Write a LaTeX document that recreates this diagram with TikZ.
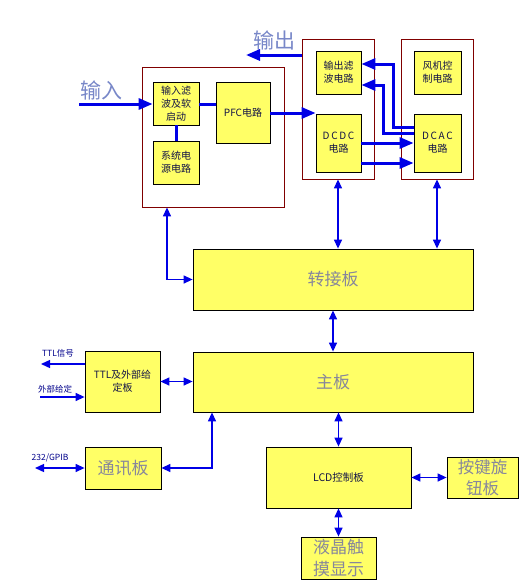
\documentclass[tikz,border=0pt]{standalone}
\usepackage{fontspec}
\usepackage{tikz}
\usetikzlibrary{arrows.meta}
\newfontfamily\cjk{Noto Sans CJK SC}
\definecolor{boxyellow}{RGB}{255,255,102}
\definecolor{framered}{RGB}{128,0,0}
\definecolor{arrowblue}{RGB}{0,0,230}
\definecolor{biggray}{RGB}{135,135,155}
\definecolor{iolabel}{RGB}{120,135,200}
\definecolor{smalltext}{RGB}{20,20,70}

\begin{document}
\begin{tikzpicture}[x=1pt,y=-1pt,
  frame/.style 2 args={draw=framered, line width=.8pt, inner sep=0pt,
    minimum width=#1, minimum height=#2},
  block/.style 2 args={draw=black, line width=.8pt, fill=boxyellow, inner sep=0pt,
    minimum width=#1, minimum height=#2, align=center, text=smalltext,
    font=\cjk\fontsize{10}{13}\selectfont},
  bigblock/.style 2 args={block={#1}{#2}, text=biggray,
    font=\cjk\fontsize{17}{22}\selectfont},
  iotext/.style={text=iolabel, font=\cjk\fontsize{21}{24}\selectfont},
  sidetext/.style={text=arrowblue!60!black, font=\cjk\fontsize{8.5}{10}\selectfont},
  power/.style={draw=arrowblue, line width=3pt},
  powerarr/.style={power, -{Triangle[length=14pt,width=11pt]}},
  signal/.style={draw=arrowblue, line width=1.3pt},
  signalarr/.style={signal, -{Triangle[length=9pt,width=8pt]}},
  botharr/.style={signal, {Triangle[length=9pt,width=8pt]}-{Triangle[length=9pt,width=8pt]}}]
%\draw[help lines] (0,0) grid[step=20] (520,581);
\useasboundingbox (0,0) rectangle (520,581);

% power section
\node[frame={142pt}{140pt}] (pfcframe) at (213,137) {};
\node[frame={72pt}{140pt}] (dcdcframe) at (338,109) {};
\node[frame={72pt}{140pt}] (dcacframe) at (437,109) {};

\node[block={46pt}{43pt}] (infilter) at (176,103.5) {输入滤\\波及软\\启动};
\node[block={46pt}{43pt}] (syspower) at (176,162.5) {系统电\\源电路};
\node[block={54pt}{61pt}] (pfc) at (243,112.5) {PFC电路};
\node[block={45pt}{43pt}] (outfilter) at (338.5,72.5) {输出滤\\波电路};
\node[block={45pt}{58pt}] (dcdc) at (338.5,143) {D\,C\,D\,C\\电路};
\node[block={47pt}{43pt}] (fanctrl) at (437.5,72.5) {风机控\\制电路};
\node[block={47pt}{58pt}] (dcac) at (437.5,143) {D\,C\,A\,C\\电路};

\node[iotext] (inlabel) at (101,90) {输入};
\node[iotext] (outlabel) at (274,40) {输出};
\coordinate (infrom) at (79,104);
\coordinate (outto) at (246,55);

\draw[powerarr] (infrom) -- (infrom -| infilter.west);
\draw[power] (infilter.east |- 0,104) -- (pfc.west |- 0,104);
\draw[power] (infilter.south) -- (syspower.north);
\draw[powerarr] (pfc.east |- 0,113) -- (dcdc.west |- 0,113);
\draw[powerarr] (dcdcframe.west |- outto) -- (outto);
\draw[powerarr] (dcdc.east |- 0,143) -- (dcac.west |- 0,143);
\draw[powerarr] (dcdc.east |- 0,163) -- (dcac.west |- 0,163);
\draw[powerarr] (dcac.west |- 0,127) -| (393,64) -- (outfilter.east |- 0,64);
\draw[powerarr] (dcac.west |- 0,133) -| (383,85) -- (outfilter.east |- 0,85);

% boards
\node[bigblock={280pt}{61pt}] (adapter) at (333,279.5) {转接板};
\node[bigblock={280pt}{60pt}] (mainboard) at (333,382) {主板};
\node[block={75pt}{61pt}] (ttlboard) at (122.5,381.5) {TTL及外部给\\定板};
\node[bigblock={76pt}{42pt}] (commboard) at (123,468) {通讯板};
\node[block={145pt}{61pt}, font=\cjk\fontsize{10.5}{13}\selectfont] (lcdboard) at (338.5,477.5) {LCD控制板};
\node[bigblock={71pt}{41pt}, font=\cjk\fontsize{16.5}{21}\selectfont] (keyboard) at (482.5,477.5) {按键旋\\钮板};
\node[bigblock={75pt}{42pt}] (touchlcd) at (338.5,558) {液晶触\\摸显示};

\draw[botharr] (pfcframe.south -| 167,0) |- (adapter.west);
\draw[botharr] (dcdcframe.south) -- (dcdcframe.south |- adapter.north);
\draw[botharr] (dcacframe.south) -- (dcacframe.south |- adapter.north);
\draw[botharr] (adapter.south) -- (mainboard.north);
\draw[botharr] (lcdboard.north |- mainboard.south) -- (lcdboard.north);
\draw[botharr] (ttlboard.east) -- (ttlboard.east -| mainboard.west);
\draw[botharr] (mainboard.south -| 212,0) |- (commboard.east);
\draw[botharr] (lcdboard.east) -- (keyboard.west);
\draw[botharr] (lcdboard.south) -- (touchlcd.north);

% outside signals
\node[sidetext] (ttlsig) at (58,353) {TTL信号};
\node[sidetext] (extset) at (55,389) {外部给定};
\node[sidetext] (gpib) at (50,458) {232/GPIB};
\coordinate (ttlout) at (41,364);
\coordinate (extin) at (40,397);
\coordinate (gpibend) at (35,468);

\draw[signalarr] (ttlboard.west |- ttlout) -- (ttlout);
\draw[signalarr] (extin) -- (extin -| ttlboard.west);
\draw[botharr] (gpibend) -- (commboard.west);

\end{tikzpicture}
\end{document}
